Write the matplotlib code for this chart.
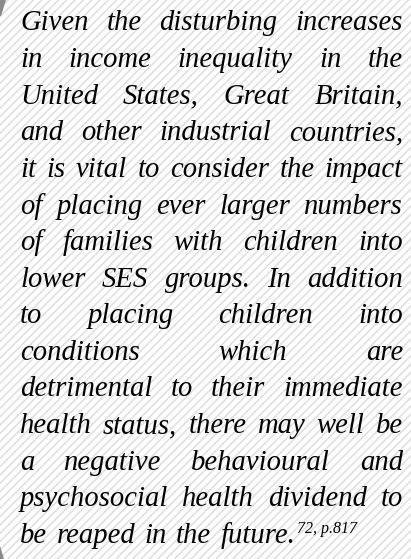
import matplotlib
matplotlib.use("Agg")
import matplotlib.pyplot as plt
from matplotlib.patches import Rectangle, Polygon

lines = [
    "Given the disturbing increases",
    "in income inequality in the",
    "United States, Great Britain,",
    "and other industrial countries,",
    "it is vital to consider the impact",
    "of placing ever larger numbers",
    "of families with children into",
    "lower SES groups. In addition",
    "to placing children into",
    "conditions which are",
    "detrimental to their immediate",
    "health status, there may well be",
    "a negative behavioural and",
    "psychosocial health dividend to",
    "be reaped in the future.",
]
citation = "72, p.817"

W, H = 411, 559
fig = plt.figure(figsize=(W / 100, H / 100), dpi=100)
ax = fig.add_axes([0, 0, 1, 1])
ax.set_xlim(0, W)
ax.set_ylim(H, 0)
ax.axis("off")

plt.rcParams["hatch.linewidth"] = 1.1
ax.add_patch(Rectangle((-5, -5), W + 10, H + 10, facecolor="white", edgecolor="#dedede",
                       linewidth=0, hatch="////", zorder=0))
ax.add_patch(Polygon([(0, 0), (6, 0), (1, 16), (0, 16)], closed=True, facecolor="#8a8a8a", edgecolor="none", zorder=1))
ax.add_patch(Polygon([(0, 546), (4, 559), (0, 559)], closed=True, facecolor="#8a8a8a", edgecolor="none", zorder=1))

font = dict(family="Liberation Serif", style="italic", size=20.6, color="black")
left, right = 20, 403
base0, step = 30.5, 36.6
fig.canvas.draw()
renderer = fig.canvas.get_renderer()

def width_of(t):
    return t.get_window_extent(renderer).width

space_t = ax.text(0, 0, "a a", **font)
aa = width_of(space_t)
a_t = ax.text(0, 0, "aa", **font)
space_w = aa - width_of(a_t)
space_t.remove(); a_t.remove()

for i, line in enumerate(lines):
    y = base0 + step * i
    words = line.split(" ")
    texts = [ax.text(0, y, w, va="baseline", ha="left", **font) for w in words]
    widths = [width_of(t) for t in texts]
    last = i == len(lines) - 1
    if last or len(words) == 1:
        gap = space_w * 1.3
    else:
        gap = (right - left - sum(widths)) / (len(words) - 1)
    x = left
    for t, w in zip(texts, widths):
        t.set_x(x)
        x += w + gap
    if last:
        end = x - gap
        ax.text(end + 2, y - 10, citation, va="baseline", ha="left",
                family="Liberation Serif", style="italic", size=11.5, color="black")

fig.savefig("out.png", dpi=100)
